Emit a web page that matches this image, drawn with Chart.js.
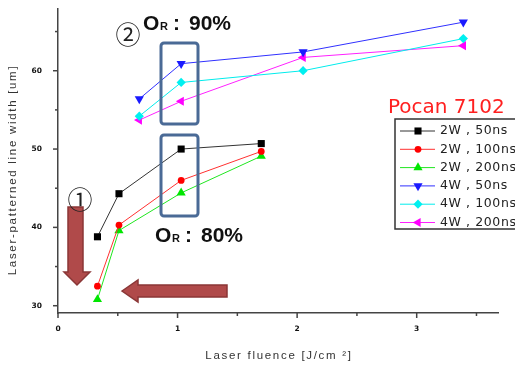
<!DOCTYPE html>
<html>
<head>
<meta charset="utf-8">
<script src="https://cdn.jsdelivr.net/npm/chart.js@4"></script>
<style>
  html, body { margin: 0; padding: 0; background: #fff; }
  #wrap { width: 515px; height: 365px; overflow: hidden; }
</style>
</head>
<body>
<div id="wrap"><canvas id="widthChart" width="515" height="365"></canvas></div>
<script>
/* Laser-patterned line width vs fluence, Pocan 7102 */

const fluence2W = [0.33, 0.51, 1.03, 1.70];
const width2W50 = [38.8, 44.3, 50.0, 50.7];
const width2W100 = [32.5, 40.3, 46.0, 49.7];
const width2W200 = [30.8, 39.6, 44.4, 49.1];

const fluence4W = [0.68, 1.03, 2.05, 3.39];
const width4W50 = [56.4, 60.9, 62.4, 66.2];
const width4W100 = [54.2, 58.5, 60.0, 64.1];
const width4W200 = [53.7, 56.1, 61.7, 63.2];

const xTickValues = [0, 0.5, 1, 1.5, 2, 2.5, 3, 3.5];
const yTickValues = [30, 35, 40, 45, 50, 55, 60, 65];

const seriesLabels = ['2W , 50ns', '2W , 100ns', '2W , 200ns', '4W , 50ns', '4W , 100ns', '4W , 200ns'];

const pts = (xs, ys) => xs.map((x, i) => ({ x, y: ys[i] }));

const markerRadius = { rect: 5, circle: 3.4, triangle: 5.3, rectRot: 4.6 };

function series(label, data, color, lineColor, style, rotation) {
  return {
    label, data,
    borderColor: lineColor, backgroundColor: color, pointBackgroundColor: color,
    borderWidth: 1, pointStyle: style, pointRotation: rotation || 0,
    pointRadius: markerRadius[style], pointBorderWidth: 0,
    tension: 0
  };
}

const datasets = [
  series(seriesLabels[0], pts(fluence2W, width2W50), '#000000', '#333333', 'rect'),
  series(seriesLabels[1], pts(fluence2W, width2W100), '#ff0000', '#ff3030', 'circle'),
  series(seriesLabels[2], pts(fluence2W, width2W200), '#00e600', '#20e620', 'triangle'),
  series(seriesLabels[3], pts(fluence4W, width4W50), '#1a1aff', '#3030ff', 'triangle', 180),
  series(seriesLabels[4], pts(fluence4W, width4W100), '#00f0f0', '#00ecec', 'rectRot'),
  series(seriesLabels[5], pts(fluence4W, width4W200), '#ff00ff', '#ff20ff', 'triangle', 270)
];

const axisColor = '#444';

// ticks, titles, legend and the hand-drawn notes
const decorations = {
  id: 'decorations',
  afterDatasetsDraw(chart) {
    const { ctx, chartArea: a, scales: { x, y } } = chart;
    ctx.save();

    // outward tick marks, long on majors
    ctx.strokeStyle = axisColor;
    ctx.lineWidth = 1.5;
    xTickValues.forEach(v => {
      const px = x.getPixelForValue(v);
      const len = Number.isInteger(v) ? 5 : 3;
      ctx.beginPath(); ctx.moveTo(px, a.bottom); ctx.lineTo(px, a.bottom + len); ctx.stroke();
    });
    yTickValues.forEach(v => {
      const py = y.getPixelForValue(v);
      const len = v % 10 === 0 ? 5 : 3;
      ctx.beginPath(); ctx.moveTo(a.left, py); ctx.lineTo(a.left - len, py); ctx.stroke();
    });

    // axis titles (stretched like the original)
    ctx.fillStyle = '#333';
    ctx.font = '11.5px "Liberation Sans", Arial, sans-serif';
    ctx.letterSpacing = '1.7px';
    ctx.textAlign = 'center';
    ctx.textBaseline = 'middle';
    ctx.fillText('Laser fluence [J/cm \u00B2]', 279, 356);
    ctx.save();
    ctx.translate(13, 170);
    ctx.rotate(-Math.PI / 2);
    ctx.fillText('Laser-patterned line width [um]', 0, 0);
    ctx.restore();
    ctx.letterSpacing = '0px';

    // highlight boxes
    ctx.strokeStyle = '#4a6a96';
    ctx.lineWidth = 3;
    [[161, 43], [161, 135]].forEach(([bx, by]) => {
      ctx.beginPath(); ctx.roundRect(bx, by, 37, 81, 3); ctx.stroke();
    });

    // arrows
    ctx.fillStyle = '#b04a4a';
    ctx.strokeStyle = '#8a3636';
    ctx.lineWidth = 1.5;
    ctx.beginPath();
    ctx.moveTo(68, 207); ctx.lineTo(83, 207); ctx.lineTo(83, 272); ctx.lineTo(90, 272);
    ctx.lineTo(77, 285); ctx.lineTo(64, 272); ctx.lineTo(68, 272); ctx.closePath();
    ctx.fill(); ctx.stroke();
    ctx.beginPath();
    ctx.moveTo(122, 291); ctx.lineTo(138, 280); ctx.lineTo(138, 285); ctx.lineTo(227, 285);
    ctx.lineTo(227, 297); ctx.lineTo(138, 297); ctx.lineTo(138, 302); ctx.closePath();
    ctx.fill(); ctx.stroke();

    // O_R labels
    const orLabel = (lx, ly, pct) => {
      ctx.fillStyle = '#111';
      ctx.textAlign = 'left';
      ctx.textBaseline = 'alphabetic';
      ctx.font = 'bold 21px "Liberation Sans", Arial, sans-serif';
      ctx.fillText('O', lx, ly);
      ctx.font = 'bold 11px "Liberation Sans", Arial, sans-serif';
      ctx.fillText('R', lx + 17, ly);
      ctx.font = 'bold 21px "Liberation Sans", Arial, sans-serif';
      ctx.fillText(':', lx + 30, ly);
      ctx.fillText(pct, lx + 46, ly);
    };
    orLabel(143, 30, '90%');
    orLabel(155, 242, '80%');

    ctx.font = '25px "Noto Sans CJK JP", "DejaVu Sans", sans-serif';
    ctx.textAlign = 'center';
    ctx.textBaseline = 'middle';
    ctx.fillStyle = '#222';
    ctx.fillText('\u2461', 128, 34);
    ctx.fillText('\u2460', 80, 199);

    // sample name
    ctx.fillStyle = '#ff2020';
    ctx.font = '20px "DejaVu Sans", sans-serif';
    ctx.textAlign = 'left';
    ctx.textBaseline = 'alphabetic';
    ctx.fillText('Pocan 7102', 388, 113);

    // legend, its frame runs off the right edge
    ctx.strokeStyle = '#333';
    ctx.lineWidth = 1.5;
    ctx.beginPath();
    ctx.moveTo(520, 119); ctx.lineTo(395, 119); ctx.lineTo(395, 229); ctx.lineTo(520, 229);
    ctx.stroke();
    datasets.forEach((ds, i) => {
      const ry = 131 + i * 18.3;
      ctx.strokeStyle = ds.borderColor;
      ctx.lineWidth = 1;
      ctx.beginPath(); ctx.moveTo(400, ry); ctx.lineTo(435, ry); ctx.stroke();
      ctx.fillStyle = ds.backgroundColor;
      Chart.helpers.drawPoint(ctx, {
        pointStyle: ds.pointStyle, rotation: ds.pointRotation,
        radius: ds.pointRadius, borderWidth: 0
      }, 418, ry);
      ctx.fillStyle = '#222';
      ctx.font = '12.5px "DejaVu Sans", sans-serif';
      ctx.letterSpacing = '0.6px';
      ctx.textBaseline = 'middle';
      ctx.fillText(ds.label, 440, ry);
      ctx.letterSpacing = '0px';
    });

    ctx.restore();
  }
};

const tickFont = { family: '"DejaVu Sans", sans-serif', size: 7.5, weight: 'bold' };

new Chart(document.getElementById('widthChart'), {
  type: 'line',
  data: { datasets },
  options: {
    responsive: false,
    animation: false,
    layout: { padding: { top: 9, right: 17, left: 0, bottom: 0 } },
    plugins: { legend: { display: false }, tooltip: { enabled: false } },
    scales: {
      x: {
        type: 'linear', min: 0, max: 3.68,
        afterBuildTicks: s => { s.ticks = xTickValues.map(value => ({ value })); },
        afterFit: s => { s.height = 52; s.paddingLeft = 0; s.paddingRight = 0; },
        grid: { display: false, drawTicks: false },
        border: { display: true, color: axisColor, width: 1.5 },
        ticks: {
          padding: 12, color: '#111', font: tickFont, maxRotation: 0, autoSkip: false,
          callback: v => Number.isInteger(v) ? String(v) : ''
        }
      },
      y: {
        type: 'linear', min: 29.07, max: 67.88,
        afterBuildTicks: s => { s.ticks = yTickValues.map(value => ({ value })); },
        afterFit: s => { s.width = 58; s.paddingTop = 0; s.paddingBottom = 0; },
        grid: { display: false, drawTicks: false },
        border: { display: true, color: axisColor, width: 1.5 },
        ticks: {
          padding: 16, color: '#111', font: tickFont, autoSkip: false,
          callback: v => v % 10 === 0 ? String(v) : ''
        }
      }
    }
  },
  plugins: [decorations]
});
</script>
</body>
</html>
